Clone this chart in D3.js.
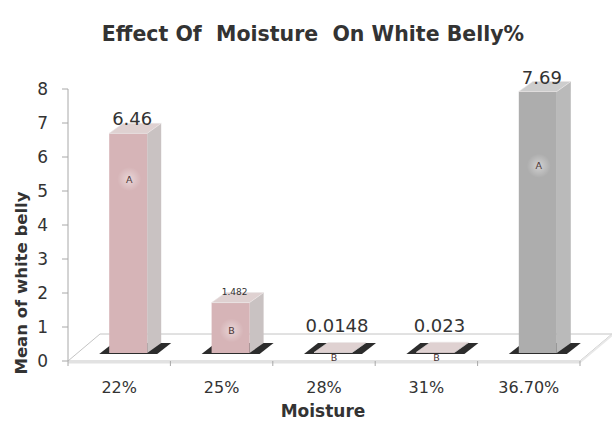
<!DOCTYPE html>
<html>
<head>
<meta charset="utf-8">
<script src="https://cdn.jsdelivr.net/npm/d3@7/dist/d3.min.js"></script>
<style>
  html, body { margin: 0; padding: 0; background: #ffffff; }
  svg { display: block; }
  text { font-family: "DejaVu Sans", Verdana, sans-serif; }
</style>
</head>
<body>
<script>
// ---- data ----
const categories   = ["22%", "25%", "28%", "31%", "36.70%"];
const values       = [6.46, 1.482, 0.0148, 0.023, 7.69];
const valueLabels  = ["6.46", "1.482", "0.0148", "0.023", "7.69"];
const groupLetters = ["A", "B", "B", "B", "A"];
const letterValues = [5.35, 0.9, 0.09, 0.09, 5.74];
const yTicks       = [0, 1, 2, 3, 4, 5, 6, 7, 8];

// ---- layout / style ----
const W = 612, H = 421;
const svg = d3.select("body").append("svg").attr("width", W).attr("height", H);

const y = d3.scaleLinear().domain([0, 8]).range([361, 89]);
const x = d3.scaleBand().domain(categories).range([68, 580]).padding(0);

const floorDX = 32, floorDY = -27;     // depth of the floor
const barOffX = 9, barOffY = -8;       // bars sit inside the floor depth
const barDX = 14, barDY = -10;         // bar depth
const barW = 38;
const pink = { front: "#d6b4b7", side: "#c9c2c2", top: "#dfd1d1" };
const grey = { front: "#adadad", side: "#bababa", top: "#cdcdcd" };
const palette = i => (i === categories.length - 1 ? grey : pink);
const labelSize = i => (i === 1 ? 9 : 18);

const x0 = x.range()[0], x1 = x.range()[1], y0 = y(0);

// floor
svg.append("polygon")
  .attr("points", [[x0, y0], [x1, y0], [x1 + floorDX, y0 + floorDY], [x0 + floorDX, y0 + floorDY]].join(" "))
  .attr("fill", "#ffffff").attr("stroke", "#c4c4c4").attr("stroke-width", 1);
// floor front thickness
svg.append("rect").attr("x", x0).attr("y", y0).attr("width", x1 - x0).attr("height", 2.5)
  .attr("fill", "#e2e2e2");
svg.append("polygon")
  .attr("points", [[x1, y0], [x1 + floorDX, y0 + floorDY], [x1 + floorDX, y0 + floorDY + 2.5], [x1, y0 + 2.5]].join(" "))
  .attr("fill", "#e8e8e8");

// y axis
svg.append("line").attr("x1", x0).attr("x2", x0).attr("y1", y(0)).attr("y2", y(8))
  .attr("stroke", "#a8a8a8");
const yt = svg.append("g");
yt.selectAll("line").data(yTicks).join("line")
  .attr("x1", x0 - 6).attr("x2", x0).attr("y1", d => y(d)).attr("y2", d => y(d))
  .attr("stroke", "#a8a8a8");
yt.selectAll("text").data(yTicks).join("text")
  .attr("x", 48).attr("y", d => y(d)).attr("dy", "0.36em")
  .attr("text-anchor", "end").attr("font-size", 17).attr("fill", "#333")
  .text(d => d);

// x ticks on the floor front edge
const bounds = categories.map(c => x(c)).concat([x1]);
svg.append("g").selectAll("line").data(bounds).join("line")
  .attr("x1", d => d).attr("x2", d => d).attr("y1", y0).attr("y2", y0 + 5)
  .attr("stroke", "#a8a8a8");

// x labels
svg.append("g").selectAll("text").data(categories).join("text")
  .attr("x", d => x(d) + x.bandwidth() / 2).attr("y", 393)
  .attr("text-anchor", "middle").attr("font-size", 16).attr("fill", "#333")
  .text(d => d);

// halo gradient for letters
const defs = svg.append("defs");
const rg = defs.append("radialGradient").attr("id", "halo");
rg.append("stop").attr("offset", "0%").attr("stop-color", "#ffffff").attr("stop-opacity", 0.45);
rg.append("stop").attr("offset", "100%").attr("stop-color", "#ffffff").attr("stop-opacity", 0);

// bars
const bars = svg.append("g").selectAll("g").data(values).join("g");
bars.each(function (v, i) {
  const g = d3.select(this);
  const c = palette(i);
  const fl = x(categories[i]) + x.bandwidth() / 2 + barOffX - barW / 2;
  const fr = fl + barW;
  const yb = y(0) + barOffY;
  const ytp = y(v) + barOffY;
  // dark footprint
  const ext = 10;
  g.append("polygon")
    .attr("points", [[fl - ext, yb + 1], [fr + ext, yb + 1], [fr + barDX + ext, yb + barDY], [fl + barDX - ext, yb + barDY]].join(" "))
    .attr("fill", "#2c2c2c");
  // side
  g.append("polygon")
    .attr("points", [[fr, yb], [fr + barDX, yb + barDY], [fr + barDX, ytp + barDY], [fr, ytp]].join(" "))
    .attr("fill", c.side);
  // front
  g.append("rect").attr("x", fl).attr("y", ytp).attr("width", barW).attr("height", Math.max(0, yb - ytp))
    .attr("fill", c.front);
  // top
  g.append("polygon")
    .attr("points", [[fl, ytp], [fr, ytp], [fr + barDX, ytp + barDY], [fl + barDX, ytp + barDY]].join(" "))
    .attr("fill", c.top).attr("stroke", "#ebe6e6").attr("stroke-width", 0.6);

  // value label
  const backTop = ytp + barDY;
  const base = Math.min(backTop + 2, y(0) - 29);
  g.append("text")
    .attr("x", fl + barW / 2 + 4).attr("y", base)
    .attr("text-anchor", "middle").attr("font-size", labelSize(i)).attr("fill", "#333")
    .text(valueLabels[i]);

  // group letter
  const lx = fl + barW / 2 + 1, ly = y(letterValues[i]);
  if (v > 1) {
    g.append("circle").attr("cx", lx).attr("cy", ly).attr("r", 12).attr("fill", "url(#halo)");
  }
  g.append("text")
    .attr("x", lx).attr("y", ly).attr("dy", "0.36em")
    .attr("text-anchor", "middle").attr("font-size", 9.5).attr("fill", "#4a3535")
    .text(groupLetters[i]);
});

// titles
svg.append("text")
  .attr("x", 313).attr("y", 41).attr("text-anchor", "middle")
  .attr("font-size", 20.5).attr("font-weight", "bold").attr("fill", "#333")
  .style("white-space", "pre")
  .text("Effect Of  Moisture  On White Belly%");

svg.append("text")
  .attr("transform", "translate(27,283) rotate(-90)")
  .attr("text-anchor", "middle").attr("font-size", 16.5).attr("font-weight", "bold").attr("fill", "#333")
  .text("Mean of white belly");

svg.append("text")
  .attr("x", 323).attr("y", 417).attr("text-anchor", "middle")
  .attr("font-size", 17).attr("font-weight", "bold").attr("fill", "#333")
  .text("Moisture");
</script>
</body>
</html>
